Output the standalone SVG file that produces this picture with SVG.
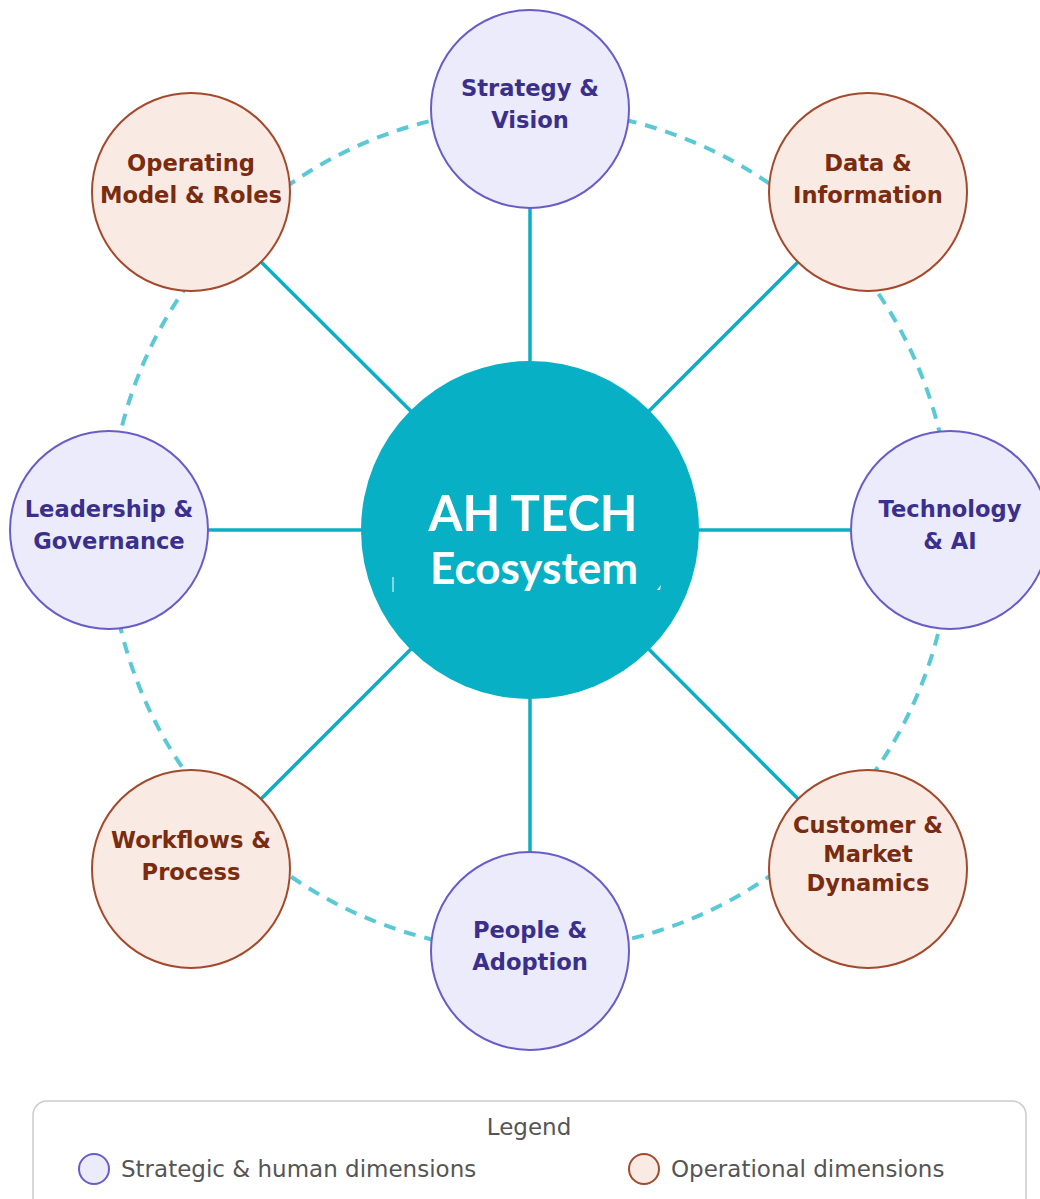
<svg xmlns="http://www.w3.org/2000/svg" width="1040" height="1199" viewBox="0 0 1040 1199">
<style>
.spoke{stroke:#0AAFC4;stroke-width:3.5;fill:none}
.ring{stroke:#5BC8D6;stroke-width:4;fill:none;stroke-dasharray:12 9}
.strat{fill:#ECEBFB;stroke:#6A5CC8;stroke-width:2}
.oper{fill:#F9EAE4;stroke:#A3492C;stroke-width:2}
.ts{font-family:"DejaVu Sans",sans-serif;font-weight:bold;font-size:22.6px;fill:#3B2F8C;text-anchor:middle;dominant-baseline:central}
.to{font-family:"DejaVu Sans",sans-serif;font-weight:bold;font-size:22.6px;fill:#7A2C10;text-anchor:middle;dominant-baseline:central}
.leg{font-family:"DejaVu Sans",sans-serif;font-size:23px;fill:#555;dominant-baseline:central}
.ctr{font-family:Lato,"Open Sans",sans-serif;font-weight:bold;fill:#fff;text-anchor:middle}
</style>
<rect width="1040" height="1199" fill="#fff"/>
<g id="connectors">
<circle class="ring" cx="530" cy="530" r="421"/>
<line class="spoke" x1="530" y1="530" x2="530" y2="109"/>
<line class="spoke" x1="530" y1="530" x2="868" y2="192"/>
<line class="spoke" x1="530" y1="530" x2="950" y2="530"/>
<line class="spoke" x1="530" y1="530" x2="868" y2="869"/>
<line class="spoke" x1="530" y1="530" x2="530" y2="951"/>
<line class="spoke" x1="530" y1="530" x2="191" y2="869"/>
<line class="spoke" x1="530" y1="530" x2="109" y2="530"/>
<line class="spoke" x1="530" y1="530" x2="191" y2="192"/>
</g>
<g id="center">
<circle cx="530" cy="530" r="169" fill="#07B0C5"/>
<text class="ctr" x="533" y="531" font-size="49">AH TECH</text>
<text class="ctr" x="534" y="584" font-size="44">Ecosystem</text>
<line x1="393" y1="577" x2="393" y2="592" stroke="#fff" stroke-width="1"/>
<path d="M657 590 L661 585 L660 590 Z" fill="#fff"/>
</g>
<g id="strategy"><circle class="strat" cx="530" cy="109" r="99"/><text class="ts" x="530" y="88">Strategy &amp;</text><text class="ts" x="530" y="120">Vision</text></g>
<g id="data"><circle class="oper" cx="868" cy="192" r="99"/><text class="to" x="868" y="163">Data &amp;</text><text class="to" x="868" y="195">Information</text></g>
<g id="technology"><circle class="strat" cx="950" cy="530" r="99"/><text class="ts" x="950" y="509">Technology</text><text class="ts" x="950" y="541">&amp; AI</text></g>
<g id="customer"><circle class="oper" cx="868" cy="869" r="99"/><text class="to" x="868" y="825">Customer &amp;</text><text class="to" x="868" y="854">Market</text><text class="to" x="868" y="883">Dynamics</text></g>
<g id="people"><circle class="strat" cx="530" cy="951" r="99"/><text class="ts" x="530" y="930">People &amp;</text><text class="ts" x="530" y="962">Adoption</text></g>
<g id="workflows"><circle class="oper" cx="191" cy="869" r="99"/><text class="to" x="191" y="840">Workflows &amp;</text><text class="to" x="191" y="872">Process</text></g>
<g id="leadership"><circle class="strat" cx="109" cy="530" r="99"/><text class="ts" x="109" y="509">Leadership &amp;</text><text class="ts" x="109" y="541">Governance</text></g>
<g id="operating"><circle class="oper" cx="191" cy="192" r="99"/><text class="to" x="191" y="163">Operating</text><text class="to" x="191" y="195">Model &amp; Roles</text></g>
<g id="legend">
<rect x="33" y="1101" width="993" height="120" rx="14" fill="#fff" stroke="#CCCCCC" stroke-width="1.5"/>
<text class="leg" x="529" y="1127" text-anchor="middle">Legend</text>
<circle class="strat" cx="94" cy="1169" r="15"/>
<text class="leg" x="121" y="1169">Strategic &amp; human dimensions</text>
<circle class="oper" cx="644" cy="1169" r="15"/>
<text class="leg" x="671" y="1169">Operational dimensions</text>
</g>
</svg>
